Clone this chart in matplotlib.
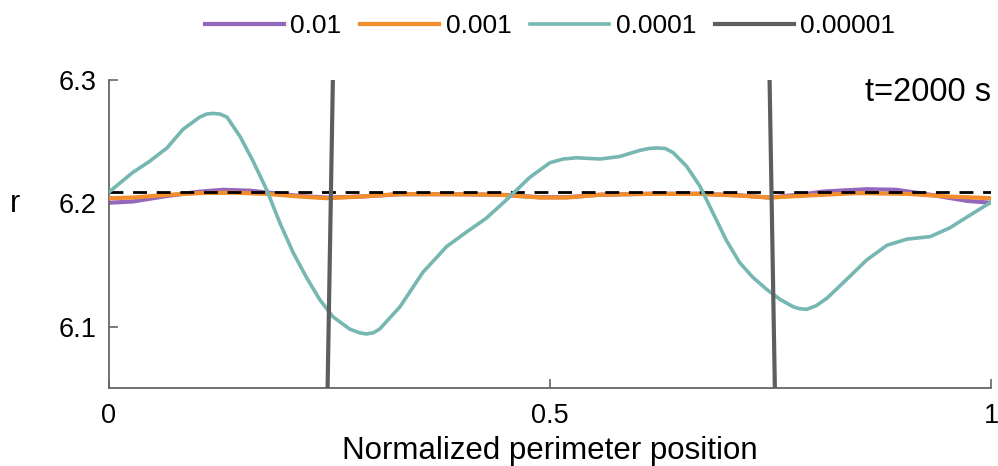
import matplotlib
matplotlib.use("Agg")
import matplotlib.pyplot as plt

plt.rcParams['font.family'] = ['Liberation Sans', 'DejaVu Sans']

# ---- data ----
labels = ["0.01", "0.001", "0.0001", "0.00001"]

x_001 = [0.0, 0.027, 0.066, 0.103, 0.129, 0.16, 0.186, 0.217, 0.247, 0.285, 0.33,
         0.387, 0.443, 0.489, 0.519, 0.557, 0.613, 0.670, 0.715, 0.749, 0.791,
         0.81, 0.859, 0.893, 0.931, 0.973, 1.0]
r_001 = [6.2005, 6.2015, 6.206, 6.2095, 6.211, 6.2103, 6.2083, 6.206, 6.2047, 6.2055, 6.2074,
         6.2075, 6.207, 6.205, 6.205, 6.207, 6.2078, 6.2078, 6.2065, 6.2047, 6.2077,
         6.2096, 6.2115, 6.211, 6.207, 6.202, 6.2005]

x_0001 = [0.0, 0.027, 0.066, 0.103, 0.14, 0.179, 0.217, 0.247, 0.285, 0.33, 0.387,
          0.443, 0.489, 0.519, 0.557, 0.613, 0.670, 0.715, 0.749, 0.791, 0.848,
          0.905, 0.953, 1.0]
r_0001 = [6.2042, 6.2047, 6.2069, 6.2083, 6.2087, 6.2077, 6.2055, 6.2042, 6.2055, 6.2075, 6.2074,
          6.207, 6.2047, 6.2047, 6.207, 6.2077, 6.2077, 6.2063, 6.2047, 6.2063, 6.2083,
          6.2077, 6.2055, 6.2042]

x_00001 = [0.0, 0.027, 0.046, 0.066, 0.084, 0.103, 0.111, 0.118, 0.126, 0.134, 0.149, 0.163, 0.179,
           0.194, 0.209, 0.224, 0.239, 0.254, 0.273, 0.284, 0.292, 0.300, 0.307, 0.330, 0.356,
           0.383, 0.406, 0.428, 0.451, 0.477, 0.500, 0.515, 0.530, 0.557, 0.579, 0.602,
           0.612, 0.621, 0.631, 0.640, 0.655, 0.670, 0.685, 0.700, 0.715, 0.730, 0.746, 0.761,
           0.776, 0.783, 0.791, 0.802, 0.814, 0.836, 0.859, 0.882, 0.905, 0.918, 0.931, 0.953,
           0.973, 1.0]
r_00001 = [6.209, 6.225, 6.234, 6.245, 6.260, 6.270, 6.2725, 6.273, 6.2725, 6.270, 6.254, 6.235, 6.211,
           6.184, 6.160, 6.140, 6.122, 6.108, 6.098, 6.095, 6.094, 6.095, 6.098, 6.116, 6.144,
           6.165, 6.177, 6.188, 6.203, 6.221, 6.233, 6.236, 6.237, 6.236, 6.238, 6.243,
           6.2445, 6.245, 6.2445, 6.241, 6.230, 6.214, 6.192, 6.170, 6.152, 6.140, 6.130, 6.122,
           6.116, 6.1145, 6.114, 6.117, 6.123, 6.138, 6.154, 6.166, 6.171, 6.172, 6.173, 6.180,
           6.189, 6.201]

x_000001 = [0.0, 0.247, 0.255, 0.5, 0.748, 0.756, 1.0]
r_000001 = [6.0, 6.008, 6.342, 6.4, 6.342, 6.008, 6.0]

ref_x = [0.0, 1.0]
ref_r = [6.209, 6.209]

xticks = [0, 0.5, 1]
xticklabels = ["0", "0.5", "1"]
yticks = [6.1, 6.2, 6.3]
yticklabels = ["6.1", "6.2", "6.3"]

colors = ["#9467bd", "#f28e2b", "#76b7b2", "#5e5e5e"]

# ---- figure ----
fig = plt.figure(figsize=(9.98, 4.66), dpi=100)
ax = fig.add_axes([0.109, 0.167, 0.884, 0.661])

l1, = ax.plot(x_001, r_001, color=colors[0], lw=3.0, label=labels[0], zorder=2)
l2, = ax.plot(x_0001, r_0001, color=colors[1], lw=3.0, label=labels[1], zorder=3)
ax.plot(ref_x, ref_r, color="black", lw=2.0, ls=(0, (5, 3.5)), zorder=4)
l3, = ax.plot(x_00001, r_00001, color=colors[2], lw=2.6, label=labels[2], zorder=5,
              solid_joinstyle="round")
l4, = ax.plot(x_000001, r_000001, color=colors[3], lw=3.0, label=labels[3], zorder=6)

ax.set_xlim(0, 1)
ax.set_ylim(6.05, 6.3)
ax.set_xticks(xticks)
ax.set_xticklabels(xticklabels)
ax.set_yticks(yticks)
ax.set_yticklabels(yticklabels)

for s in ["top", "right"]:
    ax.spines[s].set_visible(False)
for s in ["left", "bottom"]:
    ax.spines[s].set_color("#666666")
    ax.spines[s].set_linewidth(1.3)

ax.tick_params(axis="both", direction="in", length=6.5, width=1.2, color="#666666",
               labelsize=19.5, labelcolor="black")
ax.tick_params(axis="y", pad=9)
ax.tick_params(axis="x", pad=11)

ax.set_xlabel("Normalized perimeter position", fontsize=22.5, labelpad=4.5)
fig.text(15 / 998, 1 - 204 / 466, "r", fontsize=22, ha="center", va="center")
ax.text(1.0, 0.961, "t=2000 s", transform=ax.transAxes, fontsize=23.5,
        ha="right", va="center")

fig.legend(handles=[l1, l2, l3, l4], loc="center", bbox_to_anchor=(550 / 998, 1 - 26 / 466),
           ncol=4, frameon=False, fontsize=19, handlelength=3.0, handletextpad=0.25,
           columnspacing=0.7, borderaxespad=0)

fig.savefig("out.png", dpi=100)
